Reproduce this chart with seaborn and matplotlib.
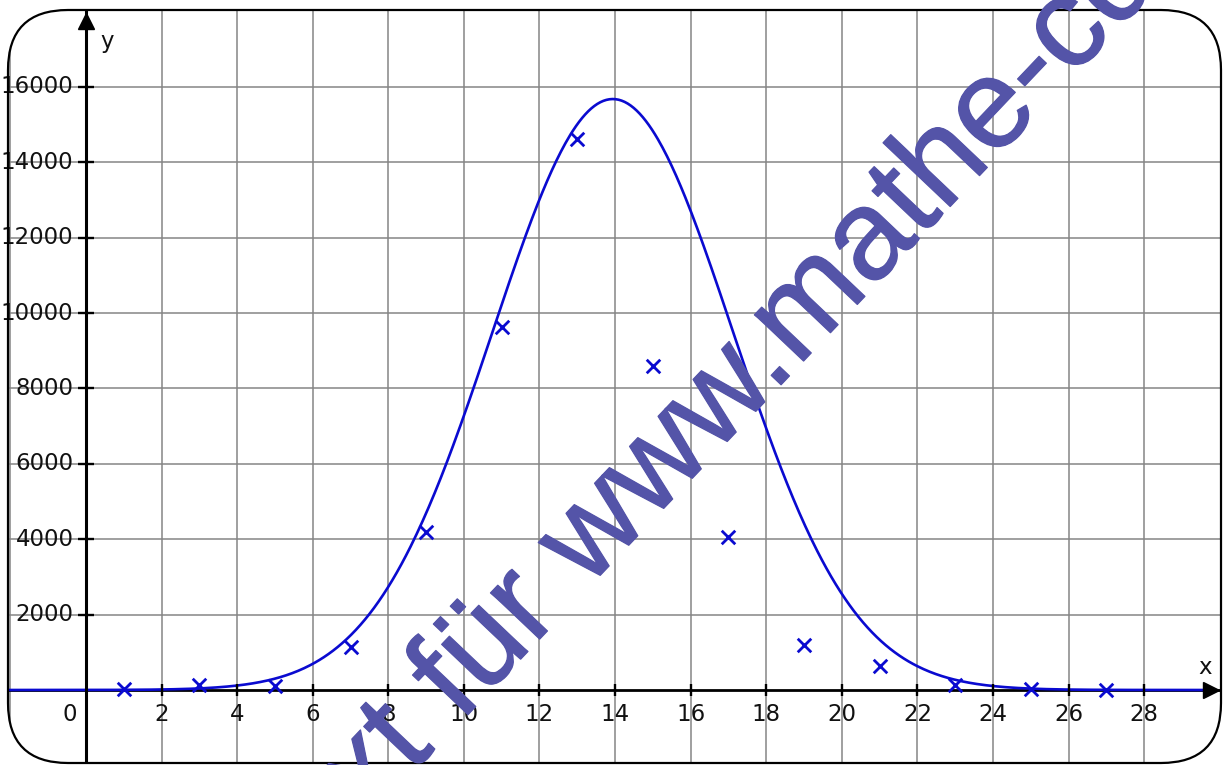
import numpy as np
import matplotlib
matplotlib.use('Agg')
import matplotlib.pyplot as plt
import matplotlib.transforms as mtransforms
import matplotlib.patheffects as pe
from matplotlib.patches import FancyBboxPatch
import seaborn as sns

# ---------------- data ----------------
x_points = [1, 3, 5, 7, 9, 11, 13, 15, 17, 19, 21, 23, 25, 27]
y_points = [20, 130, 100, 1140, 4190, 9630, 14620, 8600, 4060, 1190, 640, 130, 30, 0]

# fitted bell curve (height, position of the peak, spread)
peak_height = 15680
peak_x = 13.94
spread = 3.18

x_ticks = [2, 4, 6, 8, 10, 12, 14, 16, 18, 20, 22, 24, 26, 28]
y_ticks = [2000, 4000, 6000, 8000, 10000, 12000, 14000, 16000]
grid_x = [-2] + x_ticks
grid_y = [-2000] + y_ticks

watermark = "Demo-Text für www.mathe-cd.de"

# ---------------- figure ----------------
sns.set_style("white")
plt.rcParams['font.family'] = ['DejaVu Sans']

W, H = 1223, 765
fig = plt.figure(figsize=(W / 100, H / 100), dpi=100)
ax = fig.add_axes([0, 0, 1, 1])
ax.set_xlim(-2.2757, 30.087)
ax.set_ylim(-1990, 18308)
ax.axis('off')

blue = '#0a0ad0'

# rounded frame (pixel units)
px = mtransforms.Affine2D().scale(1 / W, 1 / H) + ax.transAxes
frame = FancyBboxPatch((8, 2), 1213, 753, boxstyle="round,pad=0,rounding_size=60",
                       transform=px, facecolor='none', edgecolor='black', lw=1.6, zorder=6)
ax.add_patch(frame)

# grid
vl = ax.vlines(grid_x, -1990, 18308, colors='#858585', lw=1.1, zorder=1)
hl = ax.hlines(grid_y, -2.3, 30.1, colors='#858585', lw=1.1, zorder=1)
vl.set_clip_path(frame)
hl.set_clip_path(frame)

# axes lines
xa = ax.axhline(0, color='black', lw=2.0, zorder=2)
ya = ax.axvline(0, color='black', lw=2.2, zorder=5)
xa.set_clip_path(frame)
ya.set_clip_path(frame)

# curve + measured points
curve_x = np.linspace(-2.3, 29.8, 800)
curve_y = peak_height * np.exp(-(curve_x - peak_x) ** 2 / (2 * spread ** 2))
sns.lineplot(x=curve_x, y=curve_y, color=blue, lw=1.9, ax=ax, zorder=3)
ax.lines[-1].set_clip_path(frame)
sns.scatterplot(x=x_points, y=y_points, marker='x', s=95, color=blue, linewidth=2.0,
                ax=ax, zorder=4)

# ticks
ax.plot(x_ticks, [0] * len(x_ticks), ls='none', marker='|', ms=9, mew=1.7,
        color='black', zorder=5)
ax.plot([0] * len(y_ticks), y_ticks, ls='none', marker='_', ms=12, mew=1.7,
        color='black', zorder=5)

# arrows
ax.plot([29.77], [0], marker='>', ms=12, color='black', zorder=5, clip_on=False)
ax.plot([0], [17751], marker='^', ms=11, color='black', zorder=5, clip_on=False)

# tick labels
fs = 16.5
for v in x_ticks:
    ax.text(v, -663, str(v), ha='center', va='center', fontsize=fs, color='#111111')
for v in y_ticks:
    t = ax.text(-0.33, v, str(v), ha='right', va='center', fontsize=fs,
                color='#111111', clip_on=True)
    t.set_clip_path(frame)
ax.text(-0.42, -663, '0', ha='center', va='center', fontsize=fs, color='#111111')
ax.text(0.556, 17194, 'y', ha='center', va='center', fontsize=fs, color='#111111')
ax.text(29.61, 610, 'x', ha='center', va='center', fontsize=fs, color='#111111')

# watermark
wm_color = '#5454a8'
fig.text(648 / W, 1 - 525 / H, watermark, rotation=46.5, rotation_mode='anchor',
         ha='center', va='baseline', fontsize=92, color=wm_color,
         family=['Liberation Sans', 'DejaVu Sans'], zorder=10,
         path_effects=[pe.withStroke(linewidth=0.9, foreground=wm_color)])

fig.savefig('out.png', dpi=100)
